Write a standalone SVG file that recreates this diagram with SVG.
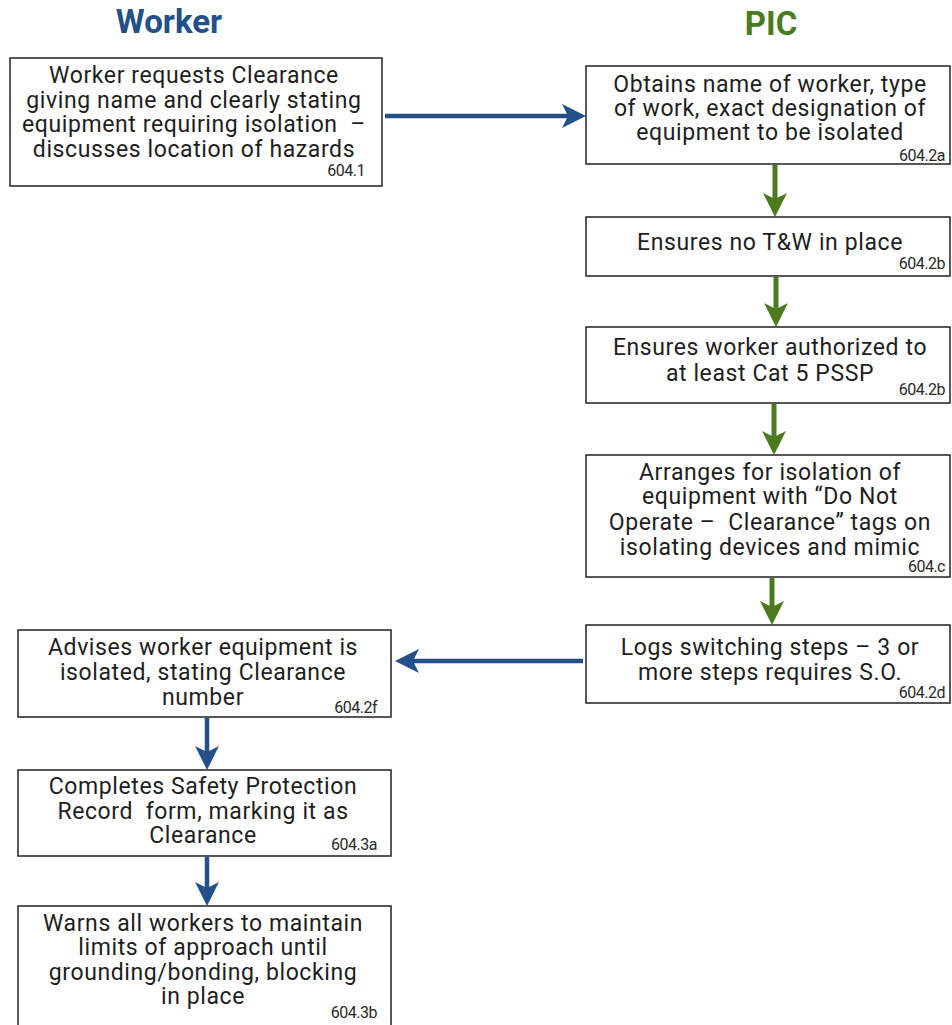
<svg xmlns="http://www.w3.org/2000/svg" width="952" height="1025" viewBox="0 0 952 1025">
  <style>
    .box { fill: #ffffff; stroke: #2e2e2e; stroke-width: 1.6; }
    .txt { font-family: Roboto, "Liberation Sans", sans-serif; font-size: 23px; letter-spacing: 0.6px; fill: #1e1e1e; text-anchor: middle; }
    .ref { font-family: Roboto, "Liberation Sans", sans-serif; font-size: 16px; fill: #2a2a2a; text-anchor: end; letter-spacing: -0.5px; }
    .head { font-family: Roboto, "Liberation Sans", sans-serif; font-size: 33px; font-weight: bold; text-anchor: middle; }
    .blue { stroke: #24508a; stroke-width: 4.5; fill: none; }
    .green { stroke: #4b7a1f; stroke-width: 5; fill: none; }
  </style>
  <defs>
    <marker id="ahBlue" markerUnits="userSpaceOnUse" viewBox="0 0 24 24" markerWidth="24" markerHeight="24" refX="6" refY="12" orient="auto">
      <path d="M0,0 L24,12 L0,24 L6,12 Z" fill="#24508a"/>
    </marker>
    <marker id="ahGreen" markerUnits="userSpaceOnUse" viewBox="0 0 24 24" markerWidth="24" markerHeight="24" refX="6" refY="12" orient="auto">
      <path d="M0,0 L24,12 L0,24 L6,12 Z" fill="#4b7a1f"/>
    </marker>
  </defs>

  <rect width="952" height="1025" fill="#ffffff"/>

  <!-- lane headings -->
  <text class="head" x="169" y="33" fill="#24508a">Worker</text>
  <text class="head" x="771" y="35" fill="#4b7a1f">PIC</text>

  <!-- connectors -->
  <g id="connectors">
    <line class="blue" x1="385" y1="116" x2="568" y2="116" marker-end="url(#ahBlue)"/>
    <line class="green" x1="775" y1="165" x2="775" y2="199" marker-end="url(#ahGreen)"/>
    <line class="green" x1="776" y1="277" x2="776" y2="309" marker-end="url(#ahGreen)"/>
    <line class="green" x1="774" y1="404" x2="774" y2="437" marker-end="url(#ahGreen)"/>
    <line class="green" x1="772" y1="578" x2="772" y2="607" marker-end="url(#ahGreen)"/>
    <line class="blue" x1="583" y1="661" x2="413" y2="661" marker-end="url(#ahBlue)"/>
    <line class="blue" x1="207" y1="718" x2="207" y2="752" marker-end="url(#ahBlue)"/>
    <line class="blue" x1="207" y1="857" x2="207" y2="888" marker-end="url(#ahBlue)"/>
  </g>

  <!-- Worker lane -->
  <g id="w-request">
    <rect class="box" x="10" y="58" width="372" height="128"/>
    <text class="txt" x="194" y="83">Worker requests Clearance</text>
    <text class="txt" x="194" y="108">giving name and clearly stating</text>
    <text class="txt" x="194" y="132" xml:space="preserve">equipment requiring isolation  –</text>
    <text class="txt" x="194" y="157">discusses location of hazards</text>
    <text class="ref" x="365" y="176">604.1</text>
  </g>

  <g id="w-advise">
    <rect class="box" x="18" y="630" width="373" height="87"/>
    <text class="txt" x="203" y="655">Advises worker equipment is</text>
    <text class="txt" x="203" y="680">isolated, stating Clearance</text>
    <text class="txt" x="203" y="705">number</text>
    <text class="ref" x="377" y="713">604.2f</text>
  </g>

  <g id="w-record">
    <rect class="box" x="18" y="770" width="373" height="86"/>
    <text class="txt" x="203" y="794">Completes Safety Protection</text>
    <text class="txt" x="203" y="819" xml:space="preserve">Record  form, marking it as</text>
    <text class="txt" x="203" y="843">Clearance</text>
    <text class="ref" x="377" y="850">604.3a</text>
  </g>

  <g id="w-warn">
    <rect class="box" x="18" y="906" width="373" height="130"/>
    <text class="txt" x="203" y="931">Warns all workers to maintain</text>
    <text class="txt" x="203" y="955">limits of approach until</text>
    <text class="txt" x="203" y="980">grounding/bonding, blocking</text>
    <text class="txt" x="203" y="1004">in place</text>
    <text class="ref" x="377" y="1018">604.3b</text>
  </g>

  <!-- PIC lane -->
  <g id="p-obtain">
    <rect class="box" x="586" y="66" width="364" height="98"/>
    <text class="txt" x="770" y="92">Obtains name of worker, type</text>
    <text class="txt" x="770" y="116">of work, exact designation of</text>
    <text class="txt" x="770" y="140">equipment to be isolated</text>
    <text class="ref" x="945" y="161">604.2a</text>
  </g>

  <g id="p-tw">
    <rect class="box" x="586" y="217" width="364" height="59"/>
    <text class="txt" x="770" y="250">Ensures no T&amp;W in place</text>
    <text class="ref" x="945" y="269">604.2b</text>
  </g>

  <g id="p-auth">
    <rect class="box" x="586" y="327" width="364" height="76"/>
    <text class="txt" x="770" y="355">Ensures worker authorized to</text>
    <text class="txt" x="770" y="381">at least Cat 5 PSSP</text>
    <text class="ref" x="945" y="395">604.2b</text>
  </g>

  <g id="p-isolate">
    <rect class="box" x="586" y="455" width="364" height="122"/>
    <text class="txt" x="770" y="480">Arranges for isolation of</text>
    <text class="txt" x="770" y="504">equipment with “Do Not</text>
    <text class="txt" x="770" y="530" xml:space="preserve">Operate –  Clearance” tags on</text>
    <text class="txt" x="770" y="555">isolating devices and mimic</text>
    <text class="ref" x="945" y="572">604.c</text>
  </g>

  <g id="p-log">
    <rect class="box" x="586" y="625" width="364" height="78"/>
    <text class="txt" x="770" y="655">Logs switching steps – 3 or</text>
    <text class="txt" x="770" y="680">more steps requires S.O.</text>
    <text class="ref" x="945" y="698">604.2d</text>
  </g>
</svg>
